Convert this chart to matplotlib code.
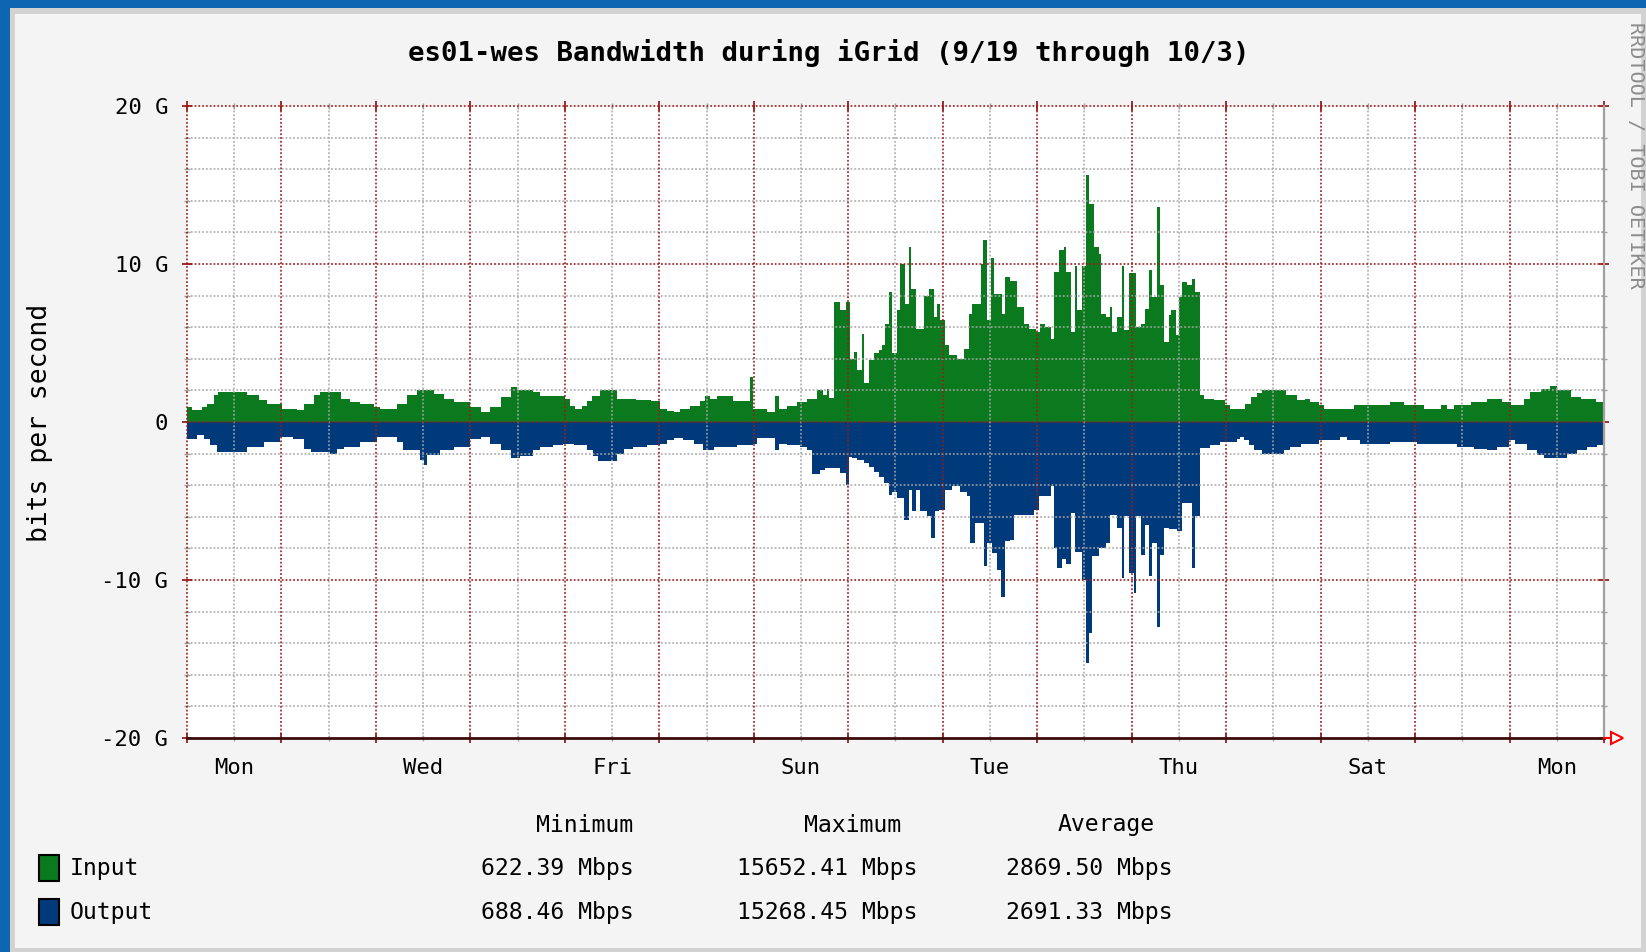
import matplotlib.pyplot as plt
import numpy as np
from matplotlib.patches import Rectangle

# ---- data (Gbps, hours since Mon 00:00) ----
title = 'es01-wes Bandwidth during iGrid (9/19 through 10/3)'
day_labels = ['Mon', '', 'Wed', '', 'Fri', '', 'Sun', '', 'Tue', '', 'Thu', '', 'Sat', '', 'Mon']
y_ticks = [-20, -10, 0, 10, 20]
y_tick_labels = ['-20 G', '-10 G', '0', '10 G', '20 G']
series_names = ['Input', 'Output']
stat_headers = ['Minimum', 'Maximum', 'Average']
input_stats = ['622.39 Mbps', '15652.41 Mbps', '2869.50 Mbps']
output_stats = ['688.46 Mbps', '15268.45 Mbps', '2691.33 Mbps']

input_hours = [0, 1.3, 3.8, 5.1, 6.8, 8.0, 15.3, 18.2, 20.3, 24.2, 28.0, 29.7, 32.2, 33.9, 39.0, 41.5, 44.0,
               47.5, 49.0, 53.4, 56.0, 58.5, 62.7, 65.3, 67.8, 72.0, 74.6, 77.0, 79.7, 82.2, 83.9, 88.0,
               89.7, 96.0, 97.3, 98.6, 100.3, 101.6, 102.8, 105.0, 109.2, 114.0, 118.0, 120.2, 121.9, 123.6,
               125.3, 127.8, 130.4, 131.6, 132.9, 134.6, 138.8, 143.0, 143.9, 147.3, 149.4, 150.3, 152.4,
               155.0, 157.5, 160.0, 161.5, 162.6, 163.0, 164.3, 166.0, 167.3, 168.5, 169.4, 170.2, 171.5,
               171.9, 173.2, 174.5, 175.7, 176.6, 177.4, 178.3, 179.1, 180.4, 181.2, 182.5, 183.4, 184.0,
               185.1, 187.2, 188.4, 189.7, 190.6, 191.4, 192.7, 193.5, 195.6, 197.3, 198.6, 199.5, 201.6,
               202.2, 203.3, 204.3, 205.0, 207.1, 207.9, 209.2, 210.9, 212.6, 213.9, 215.6, 216.8, 218.1,
               219.4, 220.2, 221.5, 222.8, 223.2, 224.5, 225.7, 226.1, 227.4, 228.3, 229.1, 230.4, 231.7,
               232.1, 233.4, 234.6, 235.0, 236.3, 237.6, 238.0, 239.3, 241.0, 242.3, 243.5, 244.4, 245.2,
               246.5, 247.1, 248.2, 249.5, 249.9, 251.2, 252.0, 252.8, 254.1, 255.4, 256.2, 257.3, 258.3,
               260.8, 263.8, 265.1, 268.9, 270.2, 271.8, 273.1, 279.1, 282.0, 284.1, 285.4, 287.5, 288.8,
               296.4, 305.7, 309.1, 314.2, 318.5, 320.2, 321.8, 326.1, 330.3, 334.1, 336.3, 339.6, 341.3,
               343.9, 346.4, 348.1, 351.5, 354.1, 357.9]
input_gbps = [0.95, 0.74, 0.95, 1.16, 1.68, 1.9, 1.68, 1.37, 1.16, 0.84, 0.74, 1.16, 1.68, 1.9, 1.47, 1.26, 1.16,
              0.95, 0.84, 1.16, 1.68, 2.0, 1.8, 1.47, 1.26, 0.95, 0.63, 0.95, 1.58, 2.2, 2.0, 1.9,
              1.67, 1.46, 1.02, 0.8, 1.02, 1.35, 1.67, 2.0, 1.46, 1.4, 1.35, 0.8, 0.7, 0.63,
              0.8, 1.02, 1.35, 1.67, 1.46, 1.67, 1.35, 2.87, 0.8, 0.63, 1.67, 0.8, 1.02,
              1.24, 1.46, 2.0, 1.7, 2.06, 1.5, 7.6, 7.07, 7.6, 4.0, 4.44, 3.28, 5.6,
              2.44, 3.9, 4.34, 4.55, 4.86, 6.2, 8.2, 4.34, 7.07, 10.0, 7.5, 11.07, 8.4,
              5.9, 8.0, 8.4, 6.65, 7.5, 6.44, 4.86, 4.23, 4.0, 4.65, 6.86, 7.5, 10.0,
              11.5, 6.44, 10.4, 8.1, 6.86, 9.2, 8.9, 7.28, 6.23, 5.9, 5.7, 6.23, 6.0,
              5.28, 9.5, 10.86, 11.07, 9.5, 5.7, 9.9, 7.07, 9.9, 15.65, 13.8, 11.07, 10.65,
              6.86, 6.65, 7.28, 5.7, 6.65, 9.9, 5.8, 9.4, 6.0, 6.23, 7.18, 9.6, 7.9,
              13.6, 8.65, 5.07, 6.76, 7.07, 5.5, 7.9, 8.86, 8.65, 9.07, 8.23, 1.7, 1.47,
              1.37, 1.05, 0.84, 1.16, 1.58, 1.83, 2.0, 1.68, 1.37, 1.47, 1.26, 1.05, 0.84,
              1.05, 1.26, 1.05, 0.84, 1.05, 0.84, 1.05, 1.26, 1.47, 1.26, 1.05, 1.47, 1.9,
              2.1, 2.3, 2.0, 1.58, 1.47, 1.26]

output_hours = [0, 2.5, 4.2, 5.9, 7.6, 15.3, 19.5, 23.7, 27.0, 29.7, 31.4, 36.4, 38.0, 39.8, 44.0, 48.3,
                53.4, 55.0, 59.3, 60.2, 61.0, 64.4, 67.8, 72.0, 74.6, 77.0, 79.7, 82.2, 84.7, 88.0, 89.7,
                93.0, 95.6, 98.2, 101.6, 103.2, 104.5, 109.2, 110.9, 113.4, 116.8, 120.2, 121.9, 123.6,
                126.1, 128.7, 131.2, 133.8, 139.7, 143.9, 144.8, 149.4, 150.3, 152.4, 155.8, 157.5, 158.8,
                160.9, 162.2, 166.0, 167.3, 168.1, 169.0, 170.2, 171.9, 173.2, 174.5, 175.7, 177.0, 178.3,
                179.1, 180.4, 182.1, 183.4, 184.2, 185.1, 186.3, 188.0, 188.9, 190.1, 191.0, 192.7, 194.4,
                196.5, 198.2, 199.0, 200.3, 202.4, 203.3, 204.5, 205.8, 206.7, 207.9, 209.2, 210.0, 215.1,
                216.4, 219.4, 220.2, 221.1, 222.3, 223.2, 224.5, 225.7, 227.4, 228.3, 229.1, 230.0, 231.7,
                233.4, 234.6, 236.3, 237.6, 238.0, 239.3, 240.6, 241.0, 242.3, 243.5, 244.4, 245.2, 246.5,
                247.1, 248.2, 249.5, 251.6, 252.8, 255.4, 256.0, 257.3, 260.0, 262.5, 266.8, 267.6, 268.5,
                269.7, 271.0, 273.1, 278.6, 280.3, 282.9, 287.5, 293.0, 294.7, 298.1, 305.7, 312.5, 322.7,
                326.9, 330.3, 332.9, 335.8, 337.5, 340.5, 343.0, 344.7, 350.7, 353.2, 355.7, 358.3]
output_gbps = [1.05, 0.84, 1.05, 1.47, 1.9, 1.58, 1.26, 0.95, 1.05, 1.68, 1.9, 2.0, 1.68, 1.58, 1.26, 0.95,
               1.26, 1.8, 2.4, 2.7, 2.1, 1.8, 1.58, 1.05, 0.95, 1.37, 1.8, 2.3, 2.13, 1.8, 1.59,
               1.48, 1.37, 1.48, 1.8, 2.13, 2.46, 2.0, 1.7, 1.59, 1.48, 1.37, 1.15, 1.04,
               1.15, 1.37, 1.8, 1.59, 1.48, 1.37, 1.04, 1.8, 1.37, 1.48, 1.59, 1.8, 3.3,
               3.03, 2.93, 3.24, 3.98, 2.19, 2.3, 2.4, 2.6, 2.82, 3.14, 3.45, 3.87, 4.6,
               4.4, 4.82, 6.19, 4.3, 5.66, 4.3, 5.66, 5.98, 7.35, 5.66, 5.56, 4.3, 4.08,
               4.4, 4.7, 7.66, 6.4, 9.14, 7.66, 8.3, 9.35, 11.1, 7.56, 7.45, 5.87, 5.56,
               4.7, 4.08, 7.98, 9.24, 8.7, 9.0, 5.77, 8.2, 10.0, 15.27, 13.35, 8.5, 7.98,
               7.66, 5.87, 6.7, 9.87, 5.98, 9.56, 10.8, 5.98, 8.4, 6.5, 9.77, 7.66, 13.0,
               8.4, 6.7, 6.8, 6.9, 5.14, 9.24, 5.98, 1.66, 1.47, 1.26, 1.05, 0.95, 1.16,
               1.47, 1.79, 2.0, 1.79, 1.58, 1.37, 1.16, 0.95, 1.16, 1.37, 1.26, 1.37, 1.58,
               1.68, 1.79, 1.58, 1.16, 1.37, 1.79, 2.1, 2.3, 2.0, 1.79, 1.58, 1.47]

W, H = 1646, 952


def fx(x):
    return x / W


def fy(y):
    return 1 - y / H


plt.rcParams['font.family'] = 'DejaVu Sans Mono'
fig = plt.figure(figsize=(W / 100, H / 100), dpi=100)
fig.patch.set_facecolor('#0e66b2')
fig.add_artist(Rectangle((fx(10), 0), 1, fy(8), transform=fig.transFigure, facecolor='#d2d2d2',
                         edgecolor='none', zorder=-10))
fig.add_artist(Rectangle((fx(15), fy(948)), fx(1641) - fx(15), fy(14) - fy(948), transform=fig.transFigure,
                         facecolor='#f4f4f4', edgecolor='none', zorder=-9))

ax = fig.add_axes([fx(187), fy(738), (1604 - 187) / W, (738 - 106) / H])
ax.set_facecolor('white')
ax.set_xlim(0, 360)
ax.set_ylim(-20, 20)

t_in = np.append(input_hours, 360)
v_in = np.append(input_gbps, input_gbps[-1])
t_out = np.append(output_hours, 360)
v_out = np.append(output_gbps, output_gbps[-1])
ax.fill_between(t_in, 0, v_in, step='post', color='#0b7a1f', lw=0, zorder=2)
ax.fill_between(t_out, 0, -v_out, step='post', color='#013a7a', lw=0, zorder=2)

# grid (drawn over the data like rrdtool)
dots = (0, (1, 1.1))
for h in range(12, 360, 24):
    ax.axvline(h, color='#a6a6a6', lw=1.3, ls=dots, alpha=0.85, zorder=3)
for v in range(-18, 20, 2):
    if v % 10:
        ax.axhline(v, color='#a6a6a6', lw=1.3, ls=dots, alpha=0.85, zorder=3)
for h in range(0, 360, 24):
    ax.axvline(h, color='#9a1c1c', lw=1.3, ls=dots, alpha=0.9, zorder=3, clip_on=False)
for v in (-10, 0, 10, 20):
    ax.axhline(v, color='#9a1c1c', lw=1.3, ls=dots, alpha=0.9, zorder=3, clip_on=False)
ax.axhline(-20, color='#3c0c0c', lw=2.0, zorder=4, clip_on=False)
ax.axvline(360, color='#a0a0a0', lw=1.6, zorder=4, clip_on=False)
ax.plot([360, 363.2], [-20, -20], color='red', lw=1.5, clip_on=False, zorder=5)
ax.plot([363.2], [-20], marker='>', ms=9, mfc='white', mec='red', mew=1.5, clip_on=False, zorder=5)

for s in ax.spines.values():
    s.set_visible(False)

ax.set_xticks(range(0, 361, 24))
ax.set_xticklabels([])
ax.set_xticks(range(12, 360, 24), minor=True)
ax.set_xticklabels(day_labels, minor=True, fontsize=16)
ax.set_yticks(y_ticks)
ax.set_yticklabels(y_tick_labels, fontsize=16)
ax.set_yticks([v for v in range(-18, 20, 2) if v % 10], minor=True)
ax.tick_params(which='major', direction='inout', length=7, width=1.3, color='#9a1c1c',
               top=True, right=True, pad=10)
ax.tick_params(which='minor', direction='inout', length=5, width=1.0, color='#a0a0a0',
               top=True, right=True, pad=12)

fig.text(fx(829), fy(53), title, ha='center', va='center', fontsize=19.7, fontweight='bold')
fig.text(fx(40), fy(423), 'bits per second', rotation=90, ha='center', va='center', fontsize=19)
fig.text(fx(1635), fy(22), 'RRDTOOL / TOBI OETIKER', rotation=-90, ha='center', va='top',
         fontsize=14.5, color='#8c8c8c')

# legend block
legend_colors = ['#0b7a1f', '#013a7a']
row_y = [868, 912]
for name, color, yy in zip(series_names, legend_colors, row_y):
    fig.add_artist(Rectangle((fx(39), fy(yy + 13)), 20 / W, 26 / H, transform=fig.transFigure,
                             facecolor=color, edgecolor='black', lw=1.5))
    fig.text(fx(70), fy(yy), name, ha='left', va='center', fontsize=16.7)
for head, cx in zip(stat_headers, [585, 853, 1106]):
    fig.text(fx(cx), fy(825), head, ha='center', va='center', fontsize=16.7)
for stats, yy in zip([input_stats, output_stats], row_y):
    for val, rx in zip(stats, [634, 917, 1172]):
        fig.text(fx(rx), fy(yy), val, ha='right', va='center', fontsize=16.7)

fig.savefig('out.png', dpi=100, facecolor=fig.get_facecolor())
